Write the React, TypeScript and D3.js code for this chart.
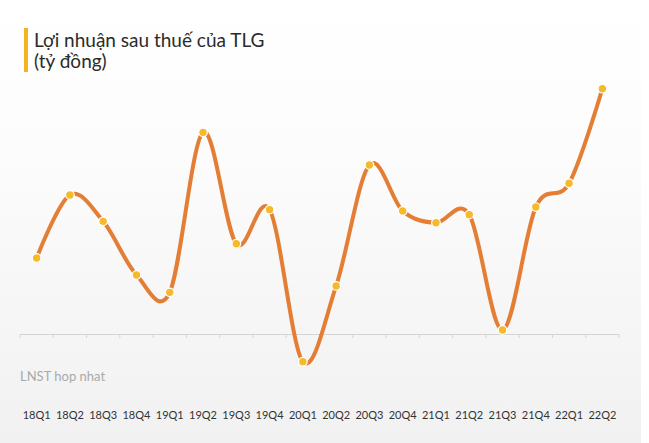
import React from "react";
import * as d3 from "d3";

const categories = ["18Q1","18Q2","18Q3","18Q4","19Q1","19Q2","19Q3","19Q4","20Q1","20Q2","20Q3","20Q4","21Q1","21Q2","21Q3","21Q4","22Q1","22Q2"];
const profits = [53.3, 97.5, 79, 41.4, 29.2, 141.4, 63.3, 87.2, -19.4, 33.7, 118.5, 86.3, 78, 83.7, 2.8, 89, 105.7, 172];
const titleLines = ["Lợi nhuận sau thuế của TLG", "(tỷ đồng)"];
const seriesName = "LNST hop nhat";

const W = 649, H = 443;

export default function App() {
  const x = d3.scaleBand<string>().domain(categories).range([20, 619]).padding(0);
  const y = d3.scaleLinear().domain([0, 172]).range([334, 88.7]);
  const line = d3.line<number>()
    .x((_, i) => (x(categories[i]) as number) + x.bandwidth() / 2)
    .y(d => y(d))
    .curve(d3.curveCardinal.tension(0));
  const ticks = d3.range(categories.length + 1).map(i => 20 + i * x.bandwidth());
  const font = "Lato, 'Open Sans', sans-serif";
  return (
    <svg width={W} height={H} style={{ position: "absolute", left: 0, top: 0, display: "block" }}>
      <defs>
        <linearGradient id="bg" x1="0" y1="0" x2="0" y2="1">
          <stop offset="0" stopColor="#ffffff" />
          <stop offset="0.35" stopColor="#fcfcfc" />
          <stop offset="1" stopColor="#f1f1f1" />
        </linearGradient>
      </defs>
      <rect x={0} y={0} width={W} height={H} fill="#ffffff" />
      <rect x={0} y={0} width={641} height={H} fill="url(#bg)" />
      <rect x={24} y={28} width={4} height={44} fill="#f5b324" />
      {titleLines.map((t, i) => (
        <text key={i} x={34} y={47 + i * 21} fontFamily={font} fontSize={19} fill="#2b2b2b">{t}</text>
      ))}
      <line x1={20} x2={619} y1={334.5} y2={334.5} stroke="#d4d4d4" strokeWidth={1} />
      {ticks.map((t, i) => (
        <line key={i} x1={t} x2={t} y1={334.5} y2={338} stroke="#d4d4d4" strokeWidth={1} />
      ))}
      <path d={line(profits) || ""} fill="none" stroke="#e47e35" strokeWidth={4} strokeLinecap="round" />
      {profits.map((v, i) => (
        <circle key={i} cx={(x(categories[i]) as number) + x.bandwidth() / 2} cy={y(v)} r={4.3}
          fill="#f5b929" stroke="#ffffff" strokeWidth={1.2} />
      ))}
      <text x={20} y={381} fontFamily={font} fontSize={13} fill="#a9a9a9">{seriesName}</text>
      {categories.map(c => (
        <text key={c} x={(x(c) as number) + x.bandwidth() / 2} y={419} textAnchor="middle"
          fontFamily={font} fontSize={11} fill="#333">{c}</text>
      ))}
    </svg>
  );
}
